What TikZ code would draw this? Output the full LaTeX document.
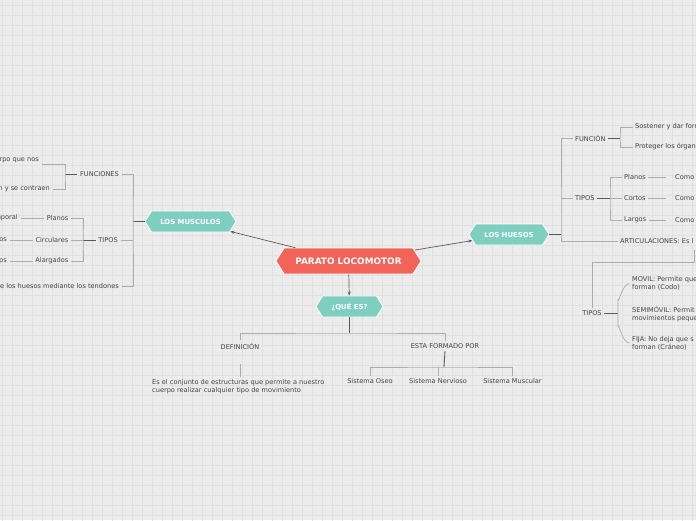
\documentclass[tikz,border=0pt]{standalone}
\usepackage{fontspec}
\setmainfont{DejaVu Sans}
\usetikzlibrary{shapes.symbols,arrows.meta}

\definecolor{paper}{HTML}{ECECEC}
\definecolor{gridln}{HTML}{E1E1E1}
\definecolor{redtopic}{HTML}{F2645A}
\definecolor{tealtopic}{HTML}{7FCFC1}
\definecolor{inktxt}{HTML}{444444}
\definecolor{linkln}{HTML}{ADADAD}
\definecolor{stubln}{HTML}{5A5A5A}

\tikzset{
  topic/.style={signal, signal to=west and east, signal pointer angle=116,
    fill=tealtopic, draw=white, line width=0.8pt, text=white,
    font=\bfseries\fontsize{6.9}{8}\selectfont, minimum height=21pt, inner sep=0pt},
  central/.style={topic, fill=redtopic, minimum height=26pt,
    font=\bfseries\fontsize{8.9}{10}\selectfont},
  leaf/.style={text=inktxt, font=\fontsize{6.6}{8}\selectfont, inner sep=2.5pt},
  link/.style={draw=linkln, line width=0.7pt},
  stub/.style={draw=stubln, line width=0.9pt},
  pointer/.style={draw=stubln, line width=0.7pt, -{Stealth[length=4pt,width=3pt]}}
}

\begin{document}
\begin{tikzpicture}[x=1pt,y=1pt,yscale=-1]
\useasboundingbox (0,0) rectangle (696,520);
% paper and grid
\fill[paper] (0,0) rectangle (696,520);
\draw[gridln, line width=0.6pt, shift={(2.3,5)}, step=10] (-10,-10) grid (700,520);

% main topics
\node[central, minimum width=145pt] (parato) at (348.5,261) {PARATO LOCOMOTOR};
\node[topic, minimum width=91pt] (musculos) at (190.5,221.5) {LOS MUSCULOS};
\node[topic, minimum width=80pt] (huesos) at (509,234.5) {LOS HUESOS};
\node[topic, minimum width=67pt] (quees) at (349.5,306.5) {¿QUÉ ES?};

\draw[pointer] (parato) -- (musculos);
\draw[pointer] (parato) -- (huesos);
\draw[pointer] (parato) -- (quees);

% los musculos
\node[leaf, anchor=east] (mfunc) at (121.5,174) {FUNCIONES};
\node[leaf, anchor=east] (mtipos) at (120.5,240) {TIPOS};
\node[leaf, anchor=east] (mtend) at (121.5,286) {de los huesos mediante los tendones};
\node[leaf, anchor=east, align=right] (f1) at (41.5,164) {rpo que nos\\\mbox{}};
\node[leaf, anchor=east] (f2) at (52.5,189) {n y se contraen};
\node[leaf, anchor=east] (lplanos) at (71,218) {Planos};
\node[leaf, anchor=east] (circulares) at (71,240) {Circulares};
\node[leaf, anchor=east] (alargados) at (71,261) {Alargados};
\node[leaf, anchor=east] (mporal) at (20.5,218) {mporal};
\node[leaf, anchor=east] (mos) at (9.5,240) {os};
\node[leaf, anchor=east] (mps) at (9.5,261) {ps};

\coordinate (mj) at (133,221.5);
\coordinate (fl) at (65,174);
\coordinate (tl) at (83,240);
\draw[stub] (musculos.west) -- (mj);
\draw[link] (mfunc.east) -| (mj) |- (mtend.east);
\draw[link] (mtipos.east) -- (mtipos.east -| mj);
\draw[stub] (fl) -- (mfunc.west);
\draw[link] (f1.east) -| (fl) |- (f2.east);
\draw[stub] (tl) -- (mtipos.west);
\draw[link] (lplanos.east) -| (tl) |- (alargados.east);
\draw[link] (circulares.east) -- (tl);
\draw[link] (mporal.east) -- (lplanos.west);
\draw[link] (mos.east) -- (circulares.west);
\draw[link] (mps.east) -- (alargados.west);

% los huesos
\node[leaf, anchor=west] (funcion) at (572.5,138) {FUNCIÓN};
\node[leaf, anchor=west] (sostener) at (632.5,127) {Sostener y dar form};
\node[leaf, anchor=west] (proteger) at (632.5,147) {Proteger los órgan};
\node[leaf, anchor=west] (htipos) at (572.5,198) {TIPOS};
\node[leaf, anchor=west] (planos) at (621.5,177) {Planos};
\node[leaf, anchor=west] (cortos) at (621.5,198) {Cortos};
\node[leaf, anchor=west] (largos) at (621.5,220) {Largos};
\node[leaf, anchor=west] (como1) at (672.5,177) {Como};
\node[leaf, anchor=west] (como2) at (672.5,198) {Como};
\node[leaf, anchor=west] (como3) at (672.5,220) {Como};
\node[leaf, anchor=west] (artic) at (617.5,241) {ARTICULACIONES: Es l};
\node[leaf] (atipos) at (592,313) {TIPOS};
\node[leaf, anchor=west, align=left] (movil) at (629.5,283.5) {MOVIL: Permite que\\forman (Codo)};
\node[leaf, anchor=west, align=left] (semi) at (629.5,314) {SEMIMÓVIL: Permit\\movimientos peque};
\node[leaf, anchor=west, align=left] (fija) at (629.5,343) {FIJA: No deja que s\\forman (Cráneo)};

\coordinate (hj) at (561,234.5);
\coordinate (fj) at (620,138);
\coordinate (tj) at (610,198);
\coordinate (aj) at (694,250);
\coordinate (bj) at (618,313);
\draw[stub] (huesos.east) -- (hj);
\draw[link] (funcion.west) -| (hj) |- (artic.west);
\draw[link] (htipos.west) -- (htipos.west -| hj);
\draw[stub] (funcion.east) -- (fj);
\draw[link] (sostener.west) -| (fj) |- (proteger.west);
\draw[stub] (htipos.east) -- (tj);
\draw[link] (planos.west) -| (tj) |- (largos.west);
\draw[link] (cortos.west) -- (tj);
\draw[link, shorten >=7pt] (planos.east) -- (como1.west);
\draw[link, shorten >=7pt] (cortos.east) -- (como2.west);
\draw[link, shorten >=7pt] (largos.east) -- (como3.west);
\draw[link] (aj) -- ++(0,12) -| (atipos.north);
\draw[stub] (atipos.east) -- (bj);
\draw[link] (movil.west) to[out=180,in=90] (bj |- 0,299) -- (bj |- 0,327) to[out=-90,in=180] (fija.west);

% que es
\node[leaf] (def) at (240,346) {DEFINICIÓN};
\node[leaf] (esta) at (445,346) {ESTA FORMADO POR};
\node[leaf, anchor=north west, align=left] (defin) at (149.5,376.5) {Es el conjunto de estructuras que permite a nuestro\\cuerpo realizar cualquier tipo de movimiento};
\node[leaf] (oseo) at (370,381) {Sistema Oseo};
\node[leaf] (nervioso) at (438,381) {Sistema Nervioso};
\node[leaf] (muscular) at (512.5,381) {Sistema Muscular};

\coordinate (qj) at (349.5,333);
\coordinate (ej) at (444,367);
\draw[stub] (quees.south) -- (qj);
\draw[link] (def.north) |- (qj) -| (esta.north);
\draw[link] (def.south) ++(0,12) -- (defin.north -| def.south);
\draw[stub] (esta.south) -- (ej);
\draw[link] (oseo.north) |- (ej) -| (muscular.north);
\draw[link] (nervioso.north) -- (nervioso.north |- ej);

\end{tikzpicture}
\end{document}
